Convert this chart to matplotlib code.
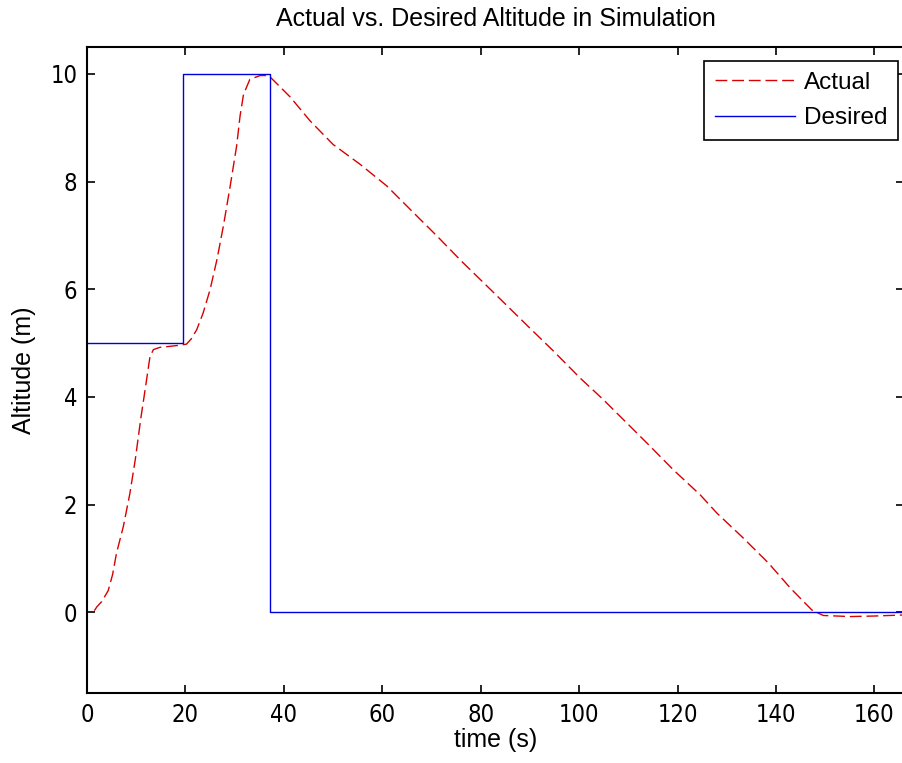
import matplotlib
matplotlib.use("Agg")
import matplotlib.pyplot as plt
from matplotlib import font_manager

# Desired altitude (step profile)
desired_t = [0, 19.6, 19.6, 37.2, 37.2, 166]
desired_alt = [5, 5, 10, 10, 0, 0]

# Actual altitude
actual_t = [1.5, 2.0, 3.0, 4.3, 5.2, 6.0, 7.4, 8.7, 9.8, 10.9, 11.8, 12.8, 13.5,
            14.8, 18.9, 20.2, 21.2, 22.3, 23.6, 25.0, 26.4, 27.7, 29.1, 30.4,
            31.1, 31.8, 33.1, 35.2, 36.9, 37.9, 41.3, 45.3, 50.0, 55.5, 60.9,
            65.6, 71.1, 76.1, 81.6, 89.4, 94.8, 100.2, 104.9, 110.4, 113.8,
            119.2, 124.6, 128.0, 133.1, 138.5, 143.0, 147.3, 149.6, 155, 160, 166]
actual_alt = [0.03, 0.1, 0.2, 0.4, 0.7, 1.1, 1.6, 2.2, 2.83, 3.58, 4.13, 4.75, 4.88,
              4.92, 4.96, 4.98, 5.08, 5.25, 5.56, 5.99, 6.55, 7.17, 7.92, 8.66,
              9.22, 9.62, 9.9, 9.97, 9.97, 9.88, 9.57, 9.13, 8.69, 8.32, 7.92,
              7.49, 6.99, 6.52, 6.03, 5.33, 4.85, 4.35, 3.95, 3.45, 3.14,
              2.64, 2.18, 1.84, 1.4, 0.91, 0.44, 0.04, -0.06, -0.08, -0.07, -0.05]

xlim = (0, 166)
ylim = (-1.5, 10.5)
xticks = [0, 20, 40, 60, 80, 100, 120, 140, 160]
yticks = [0, 2, 4, 6, 8, 10]

plt.rcParams['font.family'] = ['Liberation Sans', 'DejaVu Sans']

has_condensed = any(f.name == 'DejaVu Sans' and str(f.stretch) == 'condensed'
                    for f in font_manager.fontManager.ttflist)
if has_condensed:
    tick_font = dict(family='DejaVu Sans', stretch='condensed', size=17)
else:
    tick_font = dict(family='Liberation Sans', size=16)

W, H = 903, 763
fig = plt.figure(figsize=(W/100, H/100), dpi=100)
ax = fig.add_axes([87/W, 70/H, (904-87)/W, (693-47)/H])

ax.plot(actual_t, actual_alt, color='#d80000', lw=1.0, dashes=(8.5, 3.5), label='Actual')
ax.plot(desired_t, desired_alt, color='#0000dd', lw=1.0, label='Desired')

ax.set_xlim(*xlim)
ax.set_ylim(*ylim)
ax.set_xticks(xticks)
ax.set_yticks(yticks)
ax.tick_params(direction='in', length=6, width=1.2, top=True, right=True, pad=7)
for lab in ax.get_xticklabels() + ax.get_yticklabels():
    lab.set_fontproperties(font_manager.FontProperties(**tick_font))
for s in ax.spines.values():
    s.set_linewidth(1.5)

ax.set_title('Actual vs. Desired Altitude in Simulation', fontsize=18, pad=15)
ax.set_xlabel('time (s)', fontsize=18, labelpad=1)
ax.set_ylabel('Altitude (m)', fontsize=18, labelpad=10)

leg = ax.legend(loc='upper right', bbox_to_anchor=(898/W, 1 - 61/H),
                bbox_transform=fig.transFigure,
                fontsize=17.5, frameon=True, fancybox=False,
                edgecolor='black', framealpha=1, borderpad=0.45, handlelength=3.3,
                handletextpad=0.34, labelspacing=0.55, borderaxespad=0.0)
leg.get_frame().set_linewidth(1.2)

fig.savefig('out.png', dpi=100)
